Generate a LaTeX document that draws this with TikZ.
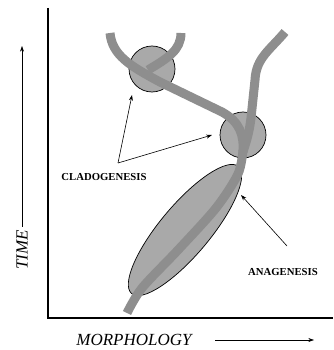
\documentclass[tikz,border=0pt]{standalone}
\usepackage{fontspec}
\setmainfont{Liberation Serif}
\usetikzlibrary{arrows.meta, shapes.geometric}

\definecolor{relleno}{HTML}{A9A9A9}
\definecolor{rama}{HTML}{8E8E8E}

\begin{document}
\begin{tikzpicture}[x=1pt, y=-1pt, >={Stealth[length=2mm, width=1.4mm]}, line width=0.6pt,
  linaje/.style={draw=rama, line width=9pt, line cap=butt},
  evento/.style={draw=black, fill=relleno, line width=0.7pt, inner sep=0pt},
  rotulo/.style={font=\fontsize{10.7}{12}\selectfont\bfseries},
  eje/.style={font=\fontsize{17}{20}\selectfont\itshape}]
  \useasboundingbox (0,0) rectangle (333,350);
  % ejes
  \coordinate (O) at (48,318);
  \draw[line width=1.2pt] (48,8) -- (O) -- (333,318);
  % eventos de especiacion
  \node[evento, ellipse, minimum width=166pt, minimum height=50pt, rotate=50] (ana) at (185,230) {};
  \node[evento, circle, minimum size=46pt] (c1) at (152,69) {};
  \node[evento, circle, minimum size=46pt] (c2) at (243,135) {};
  % linajes
  \draw[linaje] (110,33) .. controls (112,55) and (130,66) .. (160,82)
    -- (222,112) .. controls (240,122) and (244,135) .. (243,152);
  \draw[linaje] (181,33) .. controls (181,50) and (168,58) .. (148,70);
  \draw[linaje] (285,32) .. controls (270,50) and (256,58) .. (255,80)
    -- (251,118) .. controls (249,135) and (245,145) .. (243,152);
  \draw[linaje] plot[smooth, tension=0.5] coordinates {(243,150) (238,174) (216,208) (178,250) (142,288) (127,313)};
  % rotulos
  \node[rotulo] (clado) at (104,177) {CLADOGENESIS};
  \node[rotulo] (anagen) at (283,272) {ANAGENESIS};
  \coordinate (p1) at (118,163);
  \coordinate (p2) at (287,246);
  \coordinate (f1) at (132,95);
  \coordinate (f2) at (212,135);
  \coordinate (f3) at (241,195);
  \draw[->] (p1) -- (f1);
  \draw[->] (p1) -- (f2);
  \draw[->] (p2) -- (f3);
  % ejes: etiquetas
  \node[eje, rotate=90] (tiempo) at (22,250) {TIME};
  \coordinate (t1) at (22,46);
  \draw[->] (tiempo.east) -- (t1);
  \node[eje] (morfo) at (134,340) {MORPHOLOGY};
  \coordinate (m1) at (314,340);
  \draw[->] (215,340) -- (m1);
\end{tikzpicture}
\end{document}
